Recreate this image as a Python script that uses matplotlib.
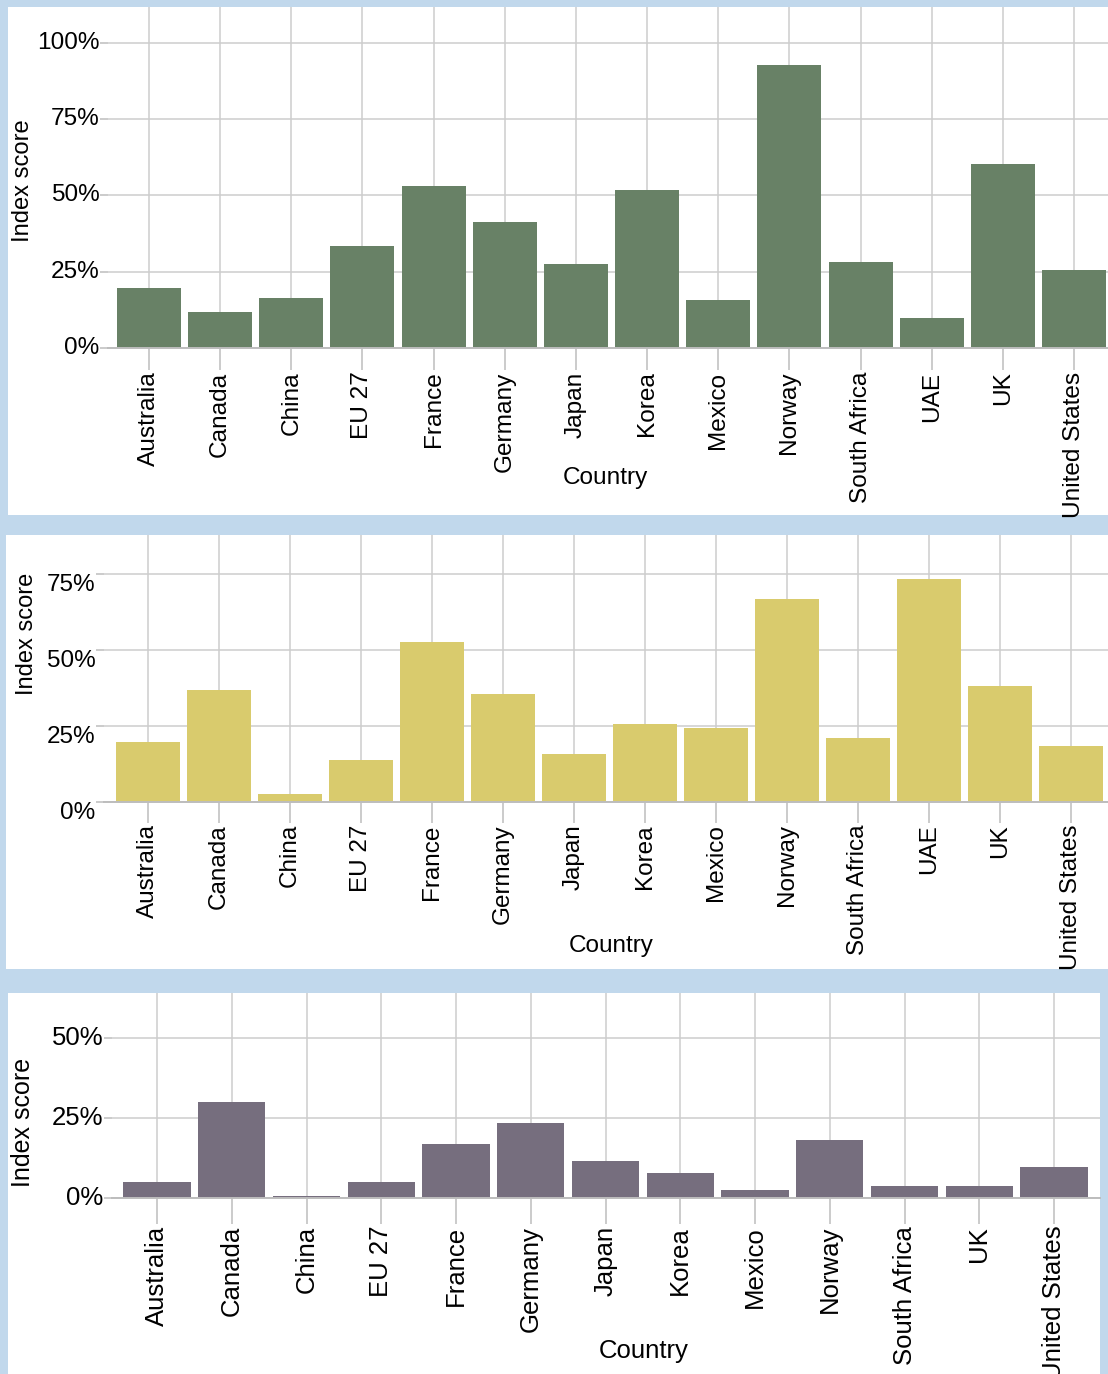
import matplotlib
matplotlib.use("Agg")
import matplotlib.pyplot as plt
from matplotlib.patches import Rectangle
from matplotlib.ticker import FuncFormatter

# ---------------- data ----------------
countries_top = ["Australia", "Canada", "China", "EU 27", "France", "Germany", "Japan",
                 "Korea", "Mexico", "Norway", "South Africa", "UAE", "UK", "United States"]
values_top = [0.197, 0.118, 0.164, 0.334, 0.531, 0.413, 0.275,
              0.518, 0.157, 0.928, 0.282, 0.098, 0.603, 0.256]

countries_mid = ["Australia", "Canada", "China", "EU 27", "France", "Germany", "Japan",
                 "Korea", "Mexico", "Norway", "South Africa", "UAE", "UK", "United States"]
values_mid = [0.197, 0.368, 0.026, 0.138, 0.526, 0.355, 0.158,
              0.257, 0.243, 0.668, 0.210, 0.734, 0.382, 0.184]

countries_bot = ["Australia", "Canada", "China", "EU 27", "France", "Germany", "Japan",
                 "Korea", "Mexico", "Norway", "South Africa", "UK", "United States"]
values_bot = [0.050, 0.300, 0.007, 0.050, 0.169, 0.234, 0.116,
              0.078, 0.025, 0.181, 0.038, 0.038, 0.097]

yticks_top = [0, 0.25, 0.5, 0.75, 1.0]
yticks_mid = [0, 0.25, 0.5, 0.75]
yticks_bot = [0, 0.25, 0.5]

x_title = "Country"
y_title = "Index score"

# ---------------- style ----------------
W, H = 1108, 1374
BLUE = "#c1d8ec"
GRID = "#cdcdcd"
FONT = ["Liberation Sans", "DejaVu Sans"]
plt.rcParams["font.family"] = FONT

fig = plt.figure(figsize=(W / 100, H / 100), dpi=100)
fig.patch.set_facecolor(BLUE)


def px_rect(x0, y0, x1, y1):
    return [x0 / W, 1 - y1 / H, (x1 - x0) / W, (y1 - y0) / H]


# white panels
for (x0, y0, x1, y1) in [(8, 7, 1108, 515), (6, 535, 1108, 969), (8, 993, 1100, 1374)]:
    fig.patches.append(Rectangle((x0 / W, 1 - y1 / H), (x1 - x0) / W, (y1 - y0) / H,
                                 transform=fig.transFigure, facecolor="white",
                                 edgecolor="none", zorder=-5))

pct = FuncFormatter(lambda v, p: f"{v * 100:.0f}%")


def panel(rect, cats, vals, color, yticks, xlim, ylim_top, xtick_len, ylab_va,
          xt_pos, yt_pos, fs):
    ax = fig.add_axes(px_rect(*rect))
    ax.set_zorder(2)
    ax.set_facecolor("none")
    n = len(cats)
    pos = list(range(n))
    ax.bar(pos, vals, width=0.9, color=color, zorder=3)
    ax.set_xlim(*xlim)
    ax.set_ylim(0, ylim_top)
    ax.set_xticks(pos)
    ax.set_xticklabels(cats, rotation=90, fontsize=fs, color="black")
    for lab in ax.get_xticklabels():
        lab.set_verticalalignment("top")
        lab.set_horizontalalignment("center")
    ax.set_yticks(yticks)
    ax.yaxis.set_major_formatter(pct)
    for lab in ax.get_yticklabels():
        lab.set_fontsize(fs)
        lab.set_color("black")
        lab.set_verticalalignment(ylab_va)
    ax.grid(True, color=GRID, linewidth=1.1, zorder=0)
    ax.set_axisbelow(True)
    for s in ["top", "right", "left"]:
        ax.spines[s].set_visible(False)
    ax.spines["bottom"].set_color("#bdbdbd")
    ax.spines["bottom"].set_linewidth(1.4)
    ax.spines["bottom"].set_zorder(4)
    ax.tick_params(axis="x", length=xtick_len, width=1.1, color="#bdbdbd", pad=1)
    ax.tick_params(axis="y", length=6, width=1.1, color="#bdbdbd", pad=0)
    fig.text(xt_pos[0] / W, 1 - xt_pos[1] / H, x_title, fontsize=fs,
             ha="center", va="center", color="black", zorder=3)
    fig.text(yt_pos[0] / W, 1 - yt_pos[1] / H, y_title, fontsize=fs - 0.5,
             ha="center", va="center", rotation=90, color="black", zorder=3)
    return ax


panel((108, 7, 1115, 348), countries_top, values_top, "#688166", yticks_top,
      (-0.576, 13.576), 1.118, 16, "center", (605, 478), (23, 181), 17.6)
panel((104, 535, 1115, 802), countries_mid, values_mid, "#d9cb6d", yticks_mid,
      (-0.62, 13.62), 0.878, 15, "top", (611, 946), (27, 634), 17.5)
panel((112, 993, 1100, 1198), countries_bot, values_bot, "#766e7e", yticks_bot,
      (-0.602, 12.615), 0.64, 19, "center", (644, 1351), (23, 1122), 18.5)

fig.savefig("out.png", dpi=100, facecolor=BLUE)
